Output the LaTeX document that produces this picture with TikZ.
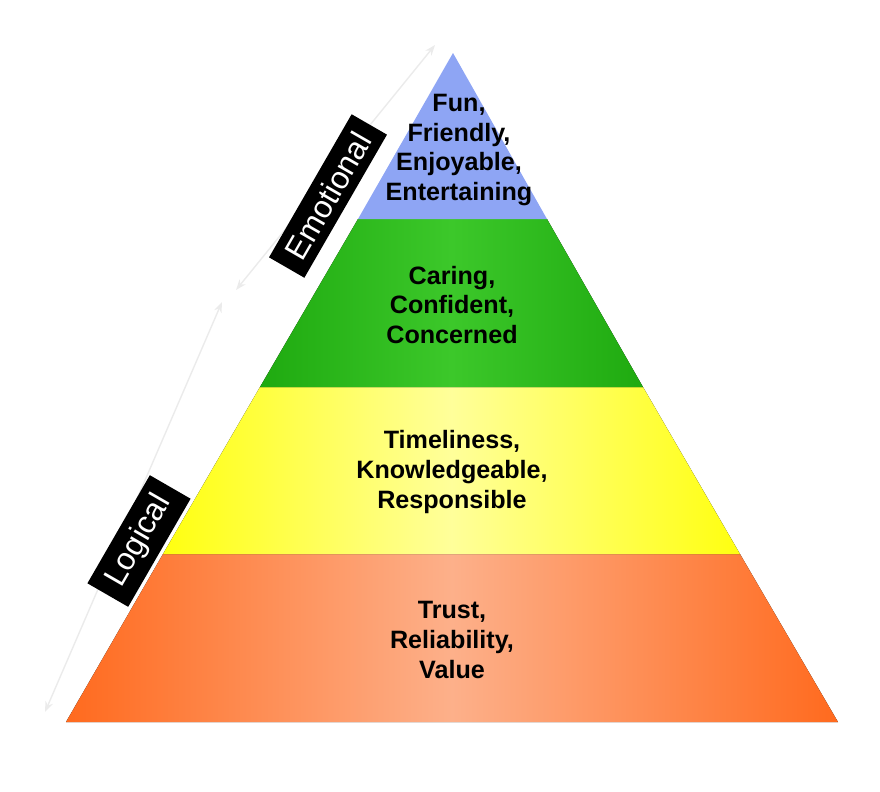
\documentclass[tikz,border=0pt]{standalone}
\usepackage{fontspec}
\setmainfont{Liberation Sans}
\usetikzlibrary{arrows.meta}
\definecolor{tierblue}{HTML}{8EA5F4}
\definecolor{greenedge}{HTML}{1FAA10}
\definecolor{greenmid}{HTML}{3CC82A}
\definecolor{yellowedge}{HTML}{FFFF10}
\definecolor{yellowmid}{HTML}{FFFF9A}
\definecolor{orangeedge}{HTML}{FF6A1E}
\definecolor{orangemid}{HTML}{FDB08A}
\tikzset{
  tiertext/.style={align=center, font=\fontsize{14.3}{17}\selectfont\bfseries},
  sidelabel/.style={fill=black, text=white, rotate=60, inner xsep=7pt, inner ysep=5pt, font=\fontsize{18}{20}\selectfont},
  guide/.style={draw=black!8, line width=0.8pt, {Stealth[length=6pt]}-{Stealth[length=6pt]}}
}
\begin{document}
\begin{tikzpicture}[x=0.02cm,y=-0.02cm]
\useasboundingbox (0,0) rectangle (880,792);
% tiers
\fill[left color=orangeedge, right color=orangeedge, middle color=orangemid] (66,722) -- (838,722) -- (740,554) -- (163,554) -- cycle;
\fill[left color=yellowedge, right color=yellowedge, middle color=yellowmid] (163,554) -- (740,554) -- (643,387) -- (260,387) -- cycle;
\fill[left color=greenedge, right color=greenedge, middle color=greenmid] (260,387) -- (643,387) -- (547,219) -- (358,219) -- cycle;
\fill[tierblue] (358,219) -- (547,219) -- (453,53) -- cycle;
% texts
\node[tiertext] (fun) at (459,150) {Fun,\\Friendly,\\Enjoyable,\\Entertaining};
\node[tiertext] (caring) at (452,305) {Caring,\\Confident,\\Concerned};
\node[tiertext] (timely) at (452,472) {Timeliness,\\Knowledgeable,\\Responsible};
\node[tiertext] (trust) at (452,640) {Trust,\\Reliability,\\Value};
% side guides
\coordinate (emotop) at (435,45);
\coordinate (emobot) at (236,290);
\coordinate (logtop) at (222,302);
\coordinate (logbot) at (45,712);
\draw[guide] (emotop) -- (emobot);
\draw[guide] (logtop) -- (logbot);
\node[sidelabel] (emotional) at (328,196) {Emotional};
\node[sidelabel] (logical) at (139,541) {Logical};
\end{tikzpicture}
\end{document}
